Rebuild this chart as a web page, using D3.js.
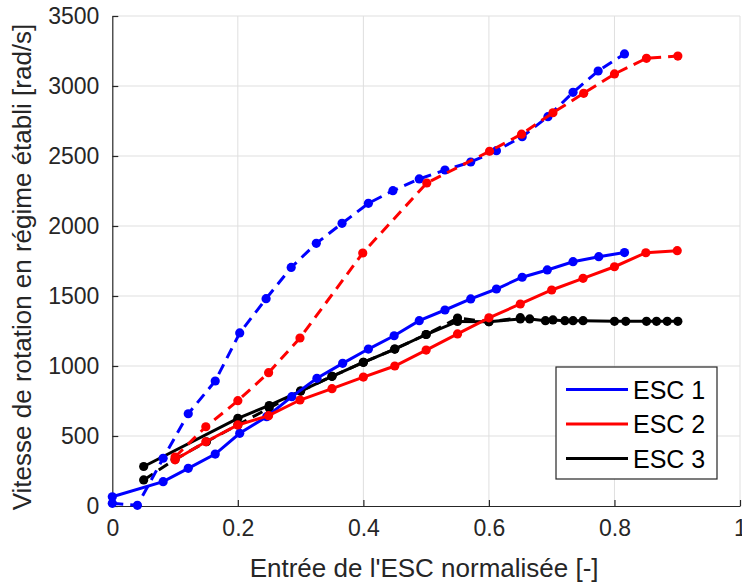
<!DOCTYPE html>
<html>
<head>
<meta charset="utf-8">
<script src="https://cdn.jsdelivr.net/npm/d3@7"></script>
<style>
  html, body { margin: 0; padding: 0; background: #fff; }
  svg { display: block; font-family: "Liberation Sans", Arial, sans-serif; }
</style>
</head>
<body>
<svg id="chart" width="742" height="583"></svg>
<script>
// ---------- data ----------
const xTickValues = [0, 0.2, 0.4, 0.6, 0.8, 1];
const xTickLabels = ["0", "0.2", "0.4", "0.6", "0.8", "1"];
const yTickValues = [0, 500, 1000, 1500, 2000, 2500, 3000, 3500];
const yTickLabels = ["0", "500", "1000", "1500", "2000", "2500", "3000", "3500"];

const legendLabels = ["ESC 1", "ESC 2", "ESC 3"];
const seriesColors = ["#0000ff", "#ff0000", "#000000"];

// ESC 1
const esc1SolidX = [0, 0.081, 0.121, 0.164, 0.203, 0.246, 0.286, 0.326, 0.367, 0.408, 0.449, 0.489, 0.530, 0.571, 0.612, 0.653, 0.693, 0.734, 0.775, 0.816];
const esc1SolidY = [66, 174, 269, 371, 519, 638, 781, 912, 1019, 1121, 1216, 1324, 1400, 1479, 1550, 1634, 1686, 1745, 1781, 1810];
const esc1DashX = [0, 0.04, 0.081, 0.121, 0.164, 0.203, 0.245, 0.285, 0.325, 0.366, 0.408, 0.447, 0.489, 0.530, 0.571, 0.612, 0.653, 0.694, 0.734, 0.774, 0.816];
const esc1DashY = [19, 5, 341, 659, 893, 1236, 1481, 1704, 1876, 2019, 2162, 2252, 2336, 2400, 2457, 2538, 2638, 2781, 2955, 3107, 3229];

// ESC 2
const esc2SolidX = [0.1, 0.149, 0.2, 0.249, 0.299, 0.35, 0.4, 0.45, 0.5, 0.55, 0.6, 0.65, 0.7, 0.75, 0.8, 0.85, 0.9];
const esc2SolidY = [330, 459, 579, 645, 757, 838, 921, 1000, 1114, 1229, 1344, 1443, 1543, 1626, 1709, 1809, 1824];
const esc2DashX = [0.1, 0.149, 0.2, 0.249, 0.299, 0.399, 0.501, 0.601, 0.652, 0.702, 0.751, 0.8, 0.851, 0.901];
const esc2DashY = [350, 566, 752, 952, 1200, 1807, 2307, 2534, 2656, 2809, 2948, 3086, 3198, 3214];

// ESC 3
const esc3SolidX = [0.05, 0.2, 0.25, 0.3, 0.35, 0.4, 0.45, 0.5, 0.55, 0.6, 0.65, 0.665, 0.69, 0.702, 0.721, 0.734, 0.75, 0.8, 0.818, 0.851, 0.867, 0.884, 0.901];
const esc3SolidY = [282, 626, 718, 821, 926, 1026, 1121, 1225, 1318, 1316, 1336, 1336, 1324, 1329, 1324, 1324, 1324, 1319, 1319, 1319, 1319, 1319, 1319];
const esc3DashX = [0.05, 0.1, 0.15, 0.2, 0.25, 0.3, 0.35, 0.4, 0.45, 0.5, 0.55, 0.6, 0.65];
const esc3DashY = [186, 333, 459, 579, 700, 821, 926, 1026, 1121, 1225, 1342, 1316, 1345];

// ---------- layout ----------
const svg = d3.select("#chart");
const mLeft = 112.3, mRight = 740, mTop = 16, mBottom = 506;
const x = d3.scaleLinear().domain([0, 1]).range([mLeft, mRight]);
const y = d3.scaleLinear().domain([0, 3500]).range([mBottom, mTop]);
const axisColor = "#262626";
const gridColor = "#dfdfdf";

// grid
const grid = svg.append("g");
grid.selectAll("line.gx").data(xTickValues.slice(1)).enter().append("line")
  .attr("x1", d => x(d)).attr("x2", d => x(d)).attr("y1", mTop).attr("y2", mBottom)
  .attr("stroke", gridColor).attr("stroke-width", 1);
grid.selectAll("line.gy").data(yTickValues.slice(1)).enter().append("line")
  .attr("x1", mLeft).attr("x2", mRight).attr("y1", d => y(d)).attr("y2", d => y(d))
  .attr("stroke", gridColor).attr("stroke-width", 1);

// axes (ticks inward)
const xAxis = d3.axisBottom(x).tickValues(xTickValues)
  .tickFormat((d, i) => xTickLabels[i]).tickSizeInner(-6).tickSizeOuter(0).tickPadding(14);
const yAxis = d3.axisLeft(y).tickValues(yTickValues)
  .tickFormat((d, i) => yTickLabels[i]).tickSizeInner(-6).tickSizeOuter(0).tickPadding(13);

const gx = svg.append("g").attr("transform", `translate(0,${mBottom})`).call(xAxis);
const gy = svg.append("g").attr("transform", `translate(${mLeft},0)`).call(yAxis);
[gx, gy].forEach(g => {
  g.select(".domain").attr("stroke", axisColor).attr("stroke-width", 1.2);
  g.selectAll(".tick line").attr("stroke", axisColor).attr("stroke-width", 1.2);
  g.selectAll(".tick text").attr("fill", axisColor)
    .style("font-size", "23px").style("font-family", "'Liberation Sans', Arial, sans-serif");
});

// axis labels
svg.append("text")
  .attr("x", (mLeft + mRight) / 2 - 2).attr("y", 577)
  .attr("text-anchor", "middle").attr("fill", axisColor)
  .style("font-size", "26px")
  .text("Entrée de l'ESC normalisée [-]");
svg.append("text")
  .attr("transform", `translate(31,${(mTop + mBottom) / 2 + 6}) rotate(-90)`)
  .attr("text-anchor", "middle").attr("fill", axisColor)
  .style("font-size", "26px")
  .text("Vitesse de rotation en régime établi [rad/s]");

// series
const series = [
  { xs: esc3DashX, ys: esc3DashY, color: seriesColors[2], dash: true },
  { xs: esc3SolidX, ys: esc3SolidY, color: seriesColors[2], dash: false },
  { xs: esc1DashX, ys: esc1DashY, color: seriesColors[0], dash: true },
  { xs: esc1SolidX, ys: esc1SolidY, color: seriesColors[0], dash: false },
  { xs: esc2DashX, ys: esc2DashY, color: seriesColors[1], dash: true },
  { xs: esc2SolidX, ys: esc2SolidY, color: seriesColors[1], dash: false },
];
const line = d3.line().x(d => x(d[0])).y(d => y(d[1]));
const plot = svg.append("g");
series.forEach(s => {
  const pts = s.xs.map((v, i) => [v, s.ys[i]]);
  plot.append("path").datum(pts)
    .attr("d", line).attr("fill", "none")
    .attr("stroke", s.color).attr("stroke-width", 3)
    .attr("stroke-dasharray", s.dash ? "11,7" : null);
  plot.selectAll(null).data(pts).enter().append("circle")
    .attr("cx", d => x(d[0])).attr("cy", d => y(d[1])).attr("r", 4.6)
    .attr("fill", s.color);
});

// legend
const lg = svg.append("g");
lg.append("rect").attr("x", 556).attr("y", 367).attr("width", 161).attr("height", 112)
  .attr("fill", "#fff").attr("stroke", axisColor).attr("stroke-width", 1.2);
legendLabels.forEach((lab, i) => {
  const yy = 389.5 + i * 34.5;
  lg.append("line").attr("x1", 566).attr("x2", 628).attr("y1", yy).attr("y2", yy)
    .attr("stroke", seriesColors[i]).attr("stroke-width", 3);
  lg.append("text").attr("x", 633).attr("y", yy + 9).attr("fill", "#000")
    .style("font-size", "25px").text(lab);
});
</script>
</body>
</html>
